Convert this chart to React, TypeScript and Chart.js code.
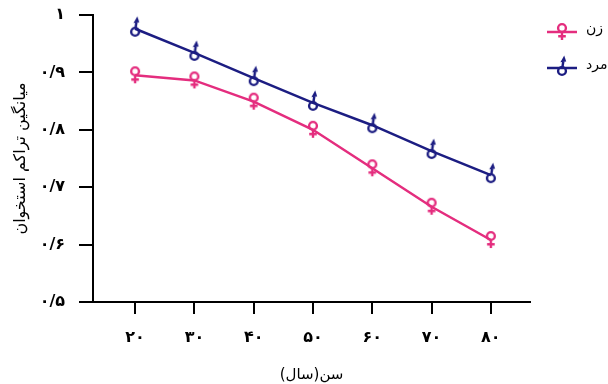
import React, { useEffect, useRef } from 'react';
import { Chart, registerables } from 'chart.js';

Chart.register(...registerables);

const ages = [20, 30, 40, 50, 60, 70, 80];
const xTickLabels = ['۲۰', '۳۰', '۴۰', '۵۰', '۶۰', '۷۰', '۸۰'];
const yTickValues = [0.5, 0.6, 0.7, 0.8, 0.9, 1];
const yTickLabels = ['۰/۵', '۰/۶', '۰/۷', '۰/۸', '۰/۹', '۱'];
const femaleValues = [0.895, 0.886, 0.849, 0.8, 0.733, 0.666, 0.608];
const maleValues = [0.976, 0.934, 0.89, 0.847, 0.808, 0.763, 0.721];
const seriesNames = ['زن', 'مرد'];
const xTitle = 'سن(سال)';
const yTitle = 'میانگین تراکم استخوان';

const PINK = '#E42D7E';
const NAVY = '#1C1D82';
const FONT = "'DejaVu Sans', sans-serif";

function makeFemale(color: string): HTMLCanvasElement {
  const c = document.createElement('canvas');
  c.width = 18;
  c.height = 24;
  const ctx = c.getContext('2d')!;
  ctx.translate(9, 12);
  ctx.strokeStyle = color;
  ctx.lineWidth = 2.4;
  ctx.beginPath();
  ctx.arc(0, -4, 3.9, 0, Math.PI * 2);
  ctx.stroke();
  ctx.beginPath();
  ctx.moveTo(0, 0);
  ctx.lineTo(0, 8);
  ctx.moveTo(-3.8, 4.2);
  ctx.lineTo(3.8, 4.2);
  ctx.stroke();
  return c;
}

function makeMale(color: string): HTMLCanvasElement {
  const c = document.createElement('canvas');
  c.width = 18;
  c.height = 28;
  const ctx = c.getContext('2d')!;
  ctx.translate(9, 14);
  ctx.strokeStyle = color;
  ctx.fillStyle = color;
  ctx.lineWidth = 2.4;
  ctx.beginPath();
  ctx.arc(0, 3, 3.9, 0, Math.PI * 2);
  ctx.stroke();
  ctx.beginPath();
  ctx.moveTo(0.4, -0.8);
  ctx.lineTo(1.3, -6.5);
  ctx.stroke();
  ctx.beginPath();
  ctx.moveTo(2.2, -12.5);
  ctx.lineTo(-1.6, -5.8);
  ctx.lineTo(4.2, -6.4);
  ctx.closePath();
  ctx.fill();
  return c;
}

export default function App() {
  const ref = useRef<HTMLCanvasElement | null>(null);

  useEffect(() => {
    if (!ref.current) return;
    const femaleIcon = makeFemale(PINK);
    const maleIcon = makeMale(NAVY);
    const icons = [femaleIcon, maleIcon];

    const legendPlugin = {
      id: 'customLegend',
      afterDraw(chart: any) {
        const ctx = chart.ctx;
        const ys = [32, 68];
        chart.data.datasets.forEach((ds: any, i: number) => {
          const y = ys[i];
          ctx.save();
          ctx.strokeStyle = ds.borderColor;
          ctx.lineWidth = 2.5;
          ctx.beginPath();
          ctx.moveTo(547, y);
          ctx.lineTo(577, y);
          ctx.stroke();
          const icon = icons[i];
          ctx.drawImage(icon, 562 - icon.width / 2, y - icon.height / 2);
          ctx.fillStyle = '#000';
          ctx.font = `14px ${FONT}`;
          ctx.textAlign = 'left';
          ctx.textBaseline = 'middle';
          ctx.fillText(ds.label, 586, y - 3);
          ctx.restore();
        });
      },
    };

    const chart = new Chart(ref.current, {
      type: 'line',
      data: {
        datasets: [
          {
            label: seriesNames[0],
            data: ages.map((a, i) => ({ x: a, y: femaleValues[i] })),
            borderColor: PINK,
            backgroundColor: PINK,
            borderWidth: 2.5,
            tension: 0,
            pointStyle: femaleIcon as any,
            pointRadius: 4,
          },
          {
            label: seriesNames[1],
            data: ages.map((a, i) => ({ x: a, y: maleValues[i] })),
            borderColor: NAVY,
            backgroundColor: NAVY,
            borderWidth: 2.5,
            tension: 0,
            pointStyle: maleIcon as any,
            pointRadius: 4,
          },
        ],
      },
      options: {
        responsive: false,
        animation: false,
        clip: false as any,
        layout: { padding: { left: 0, top: 15, right: 78, bottom: 0 } },
        plugins: {
          legend: { display: false },
          tooltip: { enabled: false },
        },
        scales: {
          x: {
            type: 'linear',
            min: 12.9,
            max: 86.6,
            afterBuildTicks: (scale: any) => {
              scale.ticks = ages.map((v) => ({ value: v }));
            },
            afterFit: (scale: any) => {
              scale.height = 82;
              scale.paddingLeft = 0;
              scale.paddingRight = 0;
            },
            ticks: {
              color: '#000',
              font: { family: FONT, size: 16, weight: 'bold' },
              padding: 14,
              maxRotation: 0,
              callback: (value: any) => {
                const i = ages.indexOf(Number(value));
                return i >= 0 ? xTickLabels[i] : '';
              },
            },
            grid: {
              drawOnChartArea: false,
              drawTicks: true,
              tickLength: 12,
              color: '#000',
              lineWidth: 2,
            },
            border: { color: '#000', width: 2 },
            title: {
              display: true,
              text: xTitle,
              color: '#000',
              font: { family: FONT, size: 15 },
              padding: { top: 0, bottom: 0 },
            },
          },
          y: {
            type: 'linear',
            min: 0.5,
            max: 1,
            afterBuildTicks: (scale: any) => {
              scale.ticks = yTickValues.map((v) => ({ value: v }));
            },
            afterFit: (scale: any) => {
              scale.width = 93;
              scale.paddingTop = 0;
              scale.paddingBottom = 0;
            },
            ticks: {
              color: '#000',
              font: { family: FONT, size: 16, weight: 'bold' },
              padding: 14,
              callback: (value: any) => {
                const i = yTickValues.findIndex((v) => Math.abs(v - Number(value)) < 1e-6);
                return i >= 0 ? yTickLabels[i] : '';
              },
            },
            grid: {
              drawOnChartArea: false,
              drawTicks: true,
              tickLength: 14,
              color: '#000',
              lineWidth: 2,
            },
            border: { color: '#000', width: 2 },
            title: {
              display: true,
              text: yTitle,
              color: '#000',
              font: { family: FONT, size: 16 },
              padding: { top: 11, bottom: 0 },
            },
          },
        },
      },
      plugins: [legendPlugin],
    });
    return () => chart.destroy();
  }, []);

  return (
    <div style={{ position: 'fixed', left: 0, top: 0, width: 608, height: 384, background: '#fff' }}>
      <canvas ref={ref} width={608} height={384} style={{ display: 'block' }} />
    </div>
  );
}
